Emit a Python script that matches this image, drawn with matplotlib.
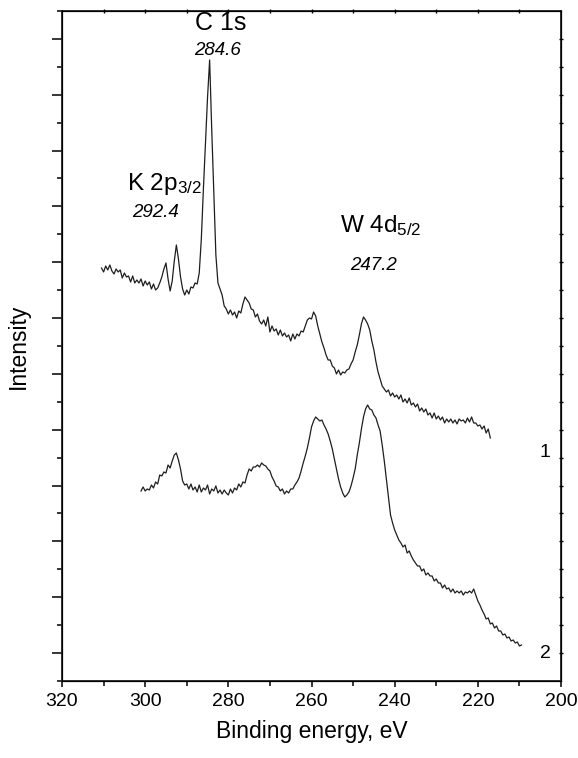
import matplotlib.pyplot as plt
import numpy as np

plt.rcParams["font.family"] = ["Liberation Sans", "DejaVu Sans"]
plt.rcParams["mathtext.fontset"] = "custom"
plt.rcParams["mathtext.rm"] = "Liberation Sans"
plt.rcParams["mathtext.it"] = "Liberation Sans:italic"

# XPS spectra: (binding energy eV, intensity a.u.)
spectrum_1 = [
    (310.5, 413), (310.0, 409), (309.5, 415), (309.0, 411), (308.5, 416),
    (308.0, 410), (307.5, 407), (307.0, 412), (306.5, 409), (306.0, 411),
    (305.5, 403), (305.0, 408), (304.5, 404), (304.0, 405), (303.5, 399),
    (303.0, 405), (302.5, 398), (302.0, 401), (301.5, 398), (301.0, 402),
    (300.5, 395), (300.0, 400), (299.5, 396), (299.0, 399), (298.5, 392),
    (298.0, 397), (297.5, 391), (297.0, 393), (296.5, 398), (296.0, 404),
    (295.5, 412), (295.0, 418), (294.5, 402), (294.0, 390), (293.5, 400),
    (293.0, 420), (292.5, 436), (292.0, 422), (291.5, 404), (291.0, 392),
    (290.5, 386), (290.0, 391), (289.5, 387), (289.0, 394), (288.5, 393),
    (288.0, 398), (287.5, 397), (287.0, 408), (286.5, 442), (286.0, 492),
    (285.5, 538), (285.0, 584), (284.5, 621), (284.0, 552), (283.5, 488),
    (283.0, 426), (282.5, 398), (282.0, 392), (281.5, 386), (281.0, 375),
    (280.5, 372), (280.0, 367), (279.5, 371), (279.0, 366), (278.5, 369),
    (278.0, 363), (277.5, 370), (277.0, 368), (276.5, 377), (276.0, 384),
    (275.5, 381), (275.0, 378), (274.5, 372), (274.0, 371), (273.5, 364),
    (273.0, 367), (272.5, 360), (272.0, 357), (271.5, 361), (271.0, 355),
    (270.5, 364), (270.0, 349), (269.5, 355), (269.0, 350), (268.5, 352),
    (268.0, 346), (267.5, 351), (267.0, 345), (266.5, 348), (266.0, 344),
    (265.5, 346), (265.0, 340), (264.5, 347), (264.0, 342), (263.5, 347),
    (263.0, 345), (262.5, 350), (262.0, 349), (261.5, 355), (261.0, 361),
    (260.5, 363), (260.0, 362), (259.5, 369), (259.0, 365), (258.5, 355),
    (258.0, 347), (257.5, 339), (257.0, 333), (256.5, 326), (256.0, 321),
    (255.5, 321), (255.0, 315), (254.5, 313), (254.0, 307), (253.5, 311),
    (253.0, 306), (252.5, 309), (252.0, 308), (251.5, 311), (251.0, 312),
    (250.5, 317), (250.0, 321), (249.5, 329), (249.0, 336), (248.5, 346),
    (248.0, 357), (247.5, 364), (247.0, 361), (246.5, 357), (246.0, 351),
    (245.5, 340), (245.0, 331), (244.5, 319), (244.0, 309), (243.5, 302),
    (243.0, 295), (242.5, 292), (242.0, 289), (241.5, 291), (241.0, 285),
    (240.5, 288), (240.0, 284), (239.5, 286), (239.0, 282), (238.5, 286),
    (238.0, 279), (237.5, 282), (237.0, 278), (236.5, 283), (236.0, 276),
    (235.5, 278), (235.0, 274), (234.5, 277), (234.0, 270), (233.5, 273),
    (233.0, 269), (232.5, 272), (232.0, 266), (231.5, 268), (231.0, 263),
    (230.5, 268), (230.0, 262), (229.5, 265), (229.0, 261), (228.5, 264),
    (228.0, 258), (227.5, 262), (227.0, 259), (226.5, 262), (226.0, 258),
    (225.5, 261), (225.0, 257), (224.5, 262), (224.0, 260), (223.5, 261),
    (223.0, 258), (222.5, 263), (222.0, 259), (221.5, 264), (221.0, 258),
    (220.5, 258), (220.0, 255), (219.5, 256), (219.0, 252), (218.5, 255),
    (218.0, 248), (217.5, 252), (217.0, 243),
]

spectrum_2 = [
    (301.0, 190), (300.5, 194), (300.0, 190), (299.5, 192), (299.0, 191),
    (298.5, 196), (298.0, 193), (297.5, 199), (297.0, 197), (296.5, 206),
    (296.0, 205), (295.5, 209), (295.0, 208), (294.5, 216), (294.0, 213),
    (293.5, 220), (293.0, 226), (292.5, 228), (292.0, 221), (291.5, 212),
    (291.0, 200), (290.5, 196), (290.0, 197), (289.5, 192), (289.0, 197),
    (288.5, 191), (288.0, 194), (287.5, 189), (287.0, 196), (286.5, 189),
    (286.0, 193), (285.5, 191), (285.0, 196), (284.5, 187), (284.0, 192),
    (283.5, 190), (283.0, 195), (282.5, 188), (282.0, 191), (281.5, 187),
    (281.0, 191), (280.5, 188), (280.0, 186), (279.5, 192), (279.0, 188),
    (278.5, 193), (278.0, 191), (277.5, 197), (277.0, 194), (276.5, 199),
    (276.0, 198), (275.5, 206), (275.0, 212), (274.5, 210), (274.0, 214),
    (273.5, 214), (273.0, 216), (272.5, 214), (272.0, 218), (271.5, 216),
    (271.0, 215), (270.5, 212), (270.0, 210), (269.5, 204), (269.0, 200),
    (268.5, 195), (268.0, 194), (267.5, 190), (267.0, 192), (266.5, 187),
    (266.0, 190), (265.5, 188), (265.0, 192), (264.5, 192), (264.0, 196),
    (263.5, 199), (263.0, 203), (262.5, 210), (262.0, 218), (261.5, 225),
    (261.0, 233), (260.5, 243), (260.0, 254), (259.5, 260), (259.0, 264),
    (258.5, 262), (258.0, 260), (257.5, 261), (257.0, 256), (256.5, 252),
    (256.0, 247), (255.5, 240), (255.0, 232), (254.5, 222), (254.0, 212),
    (253.5, 202), (253.0, 194), (252.5, 188), (252.0, 184), (251.5, 186),
    (251.0, 189), (250.5, 195), (250.0, 203), (249.5, 212), (249.0, 226),
    (248.5, 238), (248.0, 252), (247.5, 264), (247.0, 272), (246.5, 276),
    (246.0, 272), (245.5, 271), (245.0, 266), (244.5, 263), (244.0, 256),
    (243.5, 250), (243.0, 236), (242.5, 220), (242.0, 202), (241.5, 184),
    (241.0, 166), (240.5, 158), (240.0, 151), (239.5, 146), (239.0, 141),
    (238.5, 138), (238.0, 134), (237.5, 136), (237.0, 128), (236.5, 130),
    (236.0, 125), (235.5, 121), (235.0, 118), (234.5, 115), (234.0, 115),
    (233.5, 110), (233.0, 112), (232.5, 106), (232.0, 108), (231.5, 105),
    (231.0, 105), (230.5, 100), (230.0, 102), (229.5, 98), (229.0, 98),
    (228.5, 93), (228.0, 96), (227.5, 92), (227.0, 93), (226.5, 89),
    (226.0, 92), (225.5, 88), (225.0, 90), (224.5, 88), (224.0, 90),
    (223.5, 86), (223.0, 89), (222.5, 88), (222.0, 90), (221.5, 88),
    (221.0, 92), (220.5, 86), (220.0, 80), (219.5, 76), (219.0, 71),
    (218.5, 67), (218.0, 62), (217.5, 63), (217.0, 57), (216.5, 58),
    (216.0, 53), (215.5, 55), (215.0, 50), (214.5, 50), (214.0, 46),
    (213.5, 47), (213.0, 43), (212.5, 44), (212.0, 40), (211.5, 41),
    (211.0, 38), (210.5, 39), (210.0, 35), (209.5, 36),
]

x_ticks = [320, 300, 280, 260, 240, 220, 200]

e1, i1 = np.array(spectrum_1).T
e2, i2 = np.array(spectrum_2).T

fig = plt.figure(figsize=(5.78, 7.58), dpi=100)
ax = fig.add_axes([0.1073, 0.1016, 0.8633, 0.8839])

line_color = "#1e1e1e"
ax.plot(e1, i1, color=line_color, lw=0.9)
ax.plot(e2, i2, color=line_color, lw=0.9)

ax.set_xlim(320, 200)
ax.set_ylim(0, 670)

# y axis: no labels, alternating long/short ticks
step = 670 / 24
ax.set_yticks(step * np.arange(1, 24, 2))
ax.set_yticks(step * np.arange(0, 25, 2), minor=True)
ax.set_yticklabels([])
ax.set_xticks(x_ticks)
ax.set_xticks(np.arange(310, 200, -20), minor=True)

for s in ax.spines.values():
    s.set_linewidth(1.3)
    s.set_color("#222222")

ax.tick_params(axis="y", which="major", direction="out", length=7.5, width=1.1)
ax.tick_params(axis="y", which="minor", direction="out", length=3.8, width=1.1)
ax.tick_params(axis="x", which="major", direction="out", length=4.5, width=1.1,
               labelsize=14, pad=4)
ax.tick_params(axis="x", which="minor", direction="out", length=3.5, width=1.1)

# tiny mirror ticks on top and right
axr = ax.twinx()
axr.set_ylim(0, 670)
axr.set_yticks(step * np.arange(1, 24))
axr.set_yticklabels([])
axr.tick_params(axis="y", direction="inout", length=2.5, width=1.0)
axt = ax.twiny()
axt.set_xlim(320, 200)
axt.set_xticks(np.arange(310, 200, -10))
axt.set_xticklabels([])
axt.tick_params(axis="x", direction="inout", length=2.5, width=1.0)

ax.set_xlabel("Binding energy, eV", fontsize=16.5, labelpad=7)
ax.set_ylabel("Intensity", fontsize=16.5, labelpad=12)

ax.text(281.8, 651, "C 1s", fontsize=18, ha="center", va="baseline")
ax.text(282.5, 626, "284.6", fontsize=13.5, style="italic", ha="center", va="baseline")
ax.text(304.4, 491, r"K 2p$_{3/2}$", fontsize=17.5, ha="left", va="baseline")
ax.text(303.2, 464, "292.4", fontsize=13.5, style="italic", ha="left", va="baseline")
ax.text(253.1, 449, r"W 4d$_{5/2}$", fontsize=17.5, ha="left", va="baseline")
ax.text(250.7, 411, "247.2", fontsize=13.5, style="italic", ha="left", va="baseline")
ax.text(203.8, 224, "1", fontsize=14, ha="center", va="baseline")
ax.text(203.8, 23, "2", fontsize=14, ha="center", va="baseline")

fig.savefig("out.png", dpi=100)
